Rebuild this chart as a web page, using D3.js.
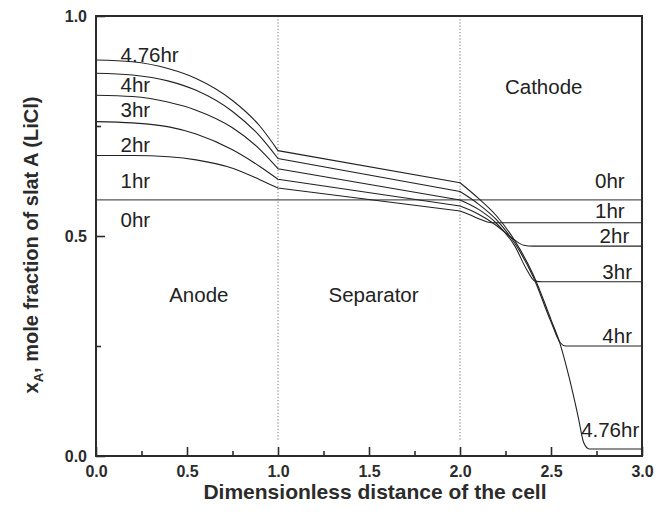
<!DOCTYPE html>
<html>
<head>
<meta charset="utf-8">
<script src="https://cdn.jsdelivr.net/npm/d3@7"></script>
<style>
  body { margin: 0; background: #fff; }
  svg { display: block; }
</style>
</head>
<body>
<svg id="chart" width="669" height="517" font-family="Liberation Sans, Arial, sans-serif"></svg>
<script>
// hours since start
const times = ["0hr", "1hr", "2hr", "3hr", "4hr", "4.76hr"];

// anode profiles, [distance, x_A]
const anode0 = [[0, 0.582], [1, 0.582]];
const anode1 = [[0, 0.683], [0.2, 0.683], [0.4, 0.680], [0.55, 0.673], [0.75, 0.654], [0.9, 0.628], [1, 0.609]];
const anode2 = [[0, 0.760], [0.2, 0.757], [0.4, 0.748], [0.55, 0.732], [0.75, 0.696], [0.9, 0.658], [1, 0.629]];
const anode3 = [[0, 0.820], [0.2, 0.817], [0.4, 0.804], [0.55, 0.786], [0.75, 0.746], [0.9, 0.697], [1, 0.653]];
const anode4 = [[0, 0.870], [0.2, 0.866], [0.4, 0.852], [0.55, 0.831], [0.75, 0.783], [0.9, 0.727], [1, 0.676]];
const anode476 = [[0, 0.900], [0.2, 0.896], [0.4, 0.880], [0.55, 0.858], [0.75, 0.808], [0.9, 0.750], [1, 0.694]];

// cathode profiles
const cathode0 = [[2, 0.582], [3, 0.582]];
const cathode1 = [[2, 0.557], [2.05, 0.549], [2.1, 0.540], [2.15, 0.532], [2.2, 0.530], [3, 0.530]];
const cathode2 = [[2, 0.568], [2.1, 0.550], [2.2, 0.524], [2.3, 0.491], [2.35, 0.479], [2.4, 0.477], [3, 0.477]];
const cathode3 = [[2, 0.582], [2.1, 0.561], [2.2, 0.529], [2.3, 0.478], [2.37, 0.421], [2.41, 0.398], [2.45, 0.396], [3, 0.396]];
const cathode4 = [[2, 0.601], [2.1, 0.573], [2.2, 0.537], [2.3, 0.484], [2.4, 0.409], [2.5, 0.305], [2.55, 0.258], [2.58, 0.250], [3, 0.250]];
const cathode476 = [[2, 0.621], [2.1, 0.586], [2.2, 0.546], [2.3, 0.490], [2.4, 0.414], [2.5, 0.310], [2.55, 0.255], [2.6, 0.178], [2.65, 0.088], [2.68, 0.030], [2.71, 0.016], [3, 0.016]];

const anodes = [anode0, anode1, anode2, anode3, anode4, anode476];
const cathodes = [cathode0, cathode1, cathode2, cathode3, cathode4, cathode476];

// region names and where they sit
const regions = ["Anode", "Separator", "Cathode"];
const regionX = [0.565, 1.525, 2.46];
const regionY = [0.35, 0.35, 0.823];

const xTicks = [0, 0.5, 1, 1.5, 2, 2.5, 3];
const xMinor = [0.25, 0.75, 1.25, 1.75, 2.25, 2.75];
const yTicks = [0, 0.5, 1];
const yMinor = [0.25, 0.75];
const boundaries = [1, 2];

// label anchors for the time labels
const leftLabelY = [0.52, 0.61, 0.69, 0.77, 0.827, 0.895];
const rightLabelX = [2.905, 2.905, 2.93, 2.945, 2.945, 2.985];
const rightLabelY = [0.609, 0.541, 0.484, 0.402, 0.257, 0.043];

const margin = { top: 16, right: 27, bottom: 61, left: 96 };
const width = 669, height = 517;
const svg = d3.select("#chart");

const x = d3.scaleLinear().domain([0, 3]).range([margin.left, width - margin.right]);
const y = d3.scaleLinear().domain([0, 1]).range([height - margin.bottom, margin.top]);

const ink = "#2b2b2b";
const labelSize = 20.5;

// region boundaries
svg.append("g").selectAll("line")
  .data(boundaries)
  .join("line")
  .attr("x1", d => x(d)).attr("x2", d => x(d))
  .attr("y1", y(1)).attr("y2", y(0.035))
  .attr("stroke", "#777")
  .attr("stroke-width", 1)
  .attr("stroke-dasharray", "1.2,2");

// profiles: curved anode, straight separator, curved cathode
const smooth = d3.line().x(d => x(d[0])).y(d => y(d[1])).curve(d3.curveMonotoneX);
const straight = d3.line().x(d => x(d[0])).y(d => y(d[1]));

svg.append("g").selectAll("path")
  .data(times.map((t, i) => ({ t, a: anodes[i], c: cathodes[i] })))
  .join("path")
  .attr("fill", "none")
  .attr("stroke", d => d.t === "0hr" ? "#555" : "#222")
  .attr("stroke-width", d => d.t === "0hr" ? 1.4 : 1.1)
  .attr("d", d => smooth(d.a) + straight([d.a[d.a.length - 1], d.c[0]]).replace("M", "L") + smooth(d.c).replace(/^M[^LC]*/, ""));

// frame
svg.append("rect")
  .attr("x", x(0)).attr("y", y(1))
  .attr("width", x(3) - x(0)).attr("height", y(0) - y(1))
  .attr("fill", "none").attr("stroke", ink).attr("stroke-width", 2);

// axes, ticks pointing inward
svg.append("g").attr("transform", `translate(0,${y(0)})`)
  .call(d3.axisBottom(x).tickValues(xTicks).tickSize(-9).tickPadding(10).tickFormat(d3.format(".1f")));
svg.append("g").attr("transform", `translate(0,${y(0)})`)
  .call(d3.axisBottom(x).tickValues(xMinor).tickSize(-5).tickFormat(""));
svg.append("g").attr("transform", `translate(${x(0)},0)`)
  .call(d3.axisLeft(y).tickValues(yTicks).tickSize(-9).tickPadding(9).tickFormat(d3.format(".1f")));
svg.append("g").attr("transform", `translate(${x(0)},0)`)
  .call(d3.axisLeft(y).tickValues(yMinor).tickSize(-5).tickFormat(""));

svg.selectAll(".domain").remove();
svg.selectAll(".tick line").attr("stroke", ink).attr("stroke-width", 1.6);
svg.selectAll(".tick text")
  .attr("fill", ink)
  .style("font-family", "Liberation Sans, Arial, sans-serif")
  .style("font-size", "16px")
  .style("font-weight", "bold");

// time labels, left side
svg.append("g").selectAll("text")
  .data(times)
  .join("text")
  .attr("x", x(0.135))
  .attr("y", (d, i) => y(leftLabelY[i]))
  .attr("font-size", labelSize)
  .attr("fill", "#222")
  .text(d => d);

// time labels, right side
svg.append("g").selectAll("text")
  .data(times)
  .join("text")
  .attr("x", (d, i) => x(rightLabelX[i]))
  .attr("y", (d, i) => y(rightLabelY[i]))
  .attr("text-anchor", "end")
  .attr("font-size", labelSize)
  .attr("fill", "#222")
  .text(d => d);

// region names
svg.append("g").selectAll("text")
  .data(regions)
  .join("text")
  .attr("x", (d, i) => x(regionX[i]))
  .attr("y", (d, i) => y(regionY[i]))
  .attr("text-anchor", "middle")
  .attr("font-size", labelSize)
  .attr("fill", "#222")
  .text(d => d);

// axis titles
svg.append("text")
  .attr("x", 375)
  .attr("y", 499)
  .attr("text-anchor", "middle")
  .attr("font-size", 21)
  .attr("font-weight", "bold")
  .attr("fill", ink)
  .text("Dimensionless distance of the cell");

const yTitle = svg.append("text")
  .attr("transform", "translate(38,245) rotate(-90)")
  .attr("text-anchor", "middle")
  .attr("font-size", 20)
  .attr("font-weight", "bold")
  .attr("fill", ink);
yTitle.append("tspan").text("x");
yTitle.append("tspan").attr("font-size", 13).attr("dy", 5).text("A");
yTitle.append("tspan").attr("dy", -5).text(", mole fraction of slat A (LiCl)");
</script>
</body>
</html>
